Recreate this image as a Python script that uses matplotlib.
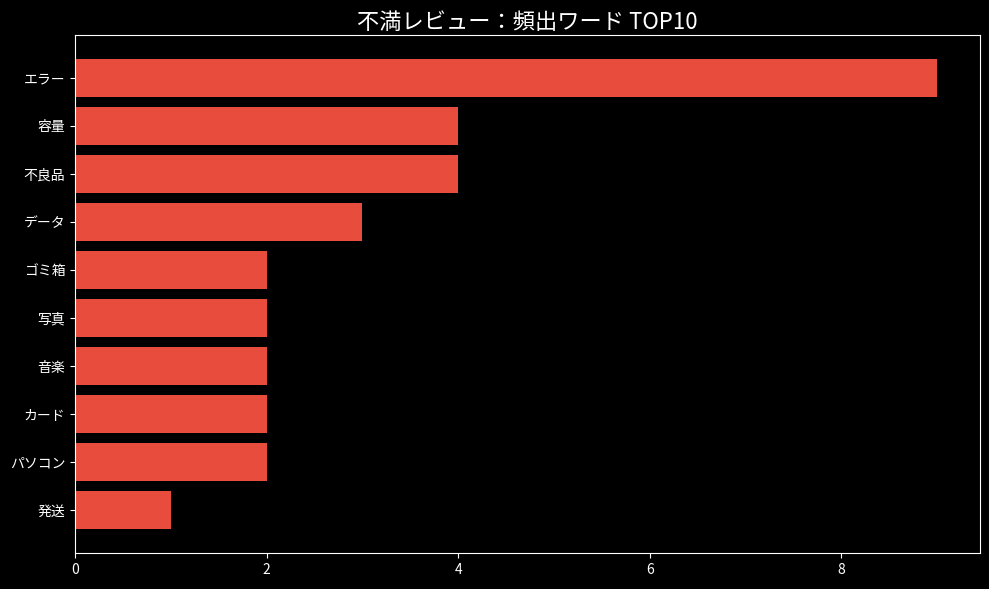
import matplotlib.pyplot as plt

plt.style.use('dark_background')
plt.rcParams['font.family'] = ['Noto Sans CJK JP', 'DejaVu Sans']

words = ['エラー', '容量', '不良品', 'データ', 'ゴミ箱', '写真', '音楽', 'カード', 'パソコン', '発送']
counts = [9, 4, 4, 3, 2, 2, 2, 2, 2, 1]

fig, ax = plt.subplots(figsize=(9.89, 5.89), dpi=100)
ax.barh(words[::-1], counts[::-1], color='#e74c3c')
ax.set_title('不満レビュー：頻出ワード TOP10', fontsize=16, pad=4)
ax.tick_params(labelsize=10)

fig.subplots_adjust(left=0.0758, right=0.991, top=0.9406, bottom=0.0611)
plt.savefig('out.png', dpi=100)
